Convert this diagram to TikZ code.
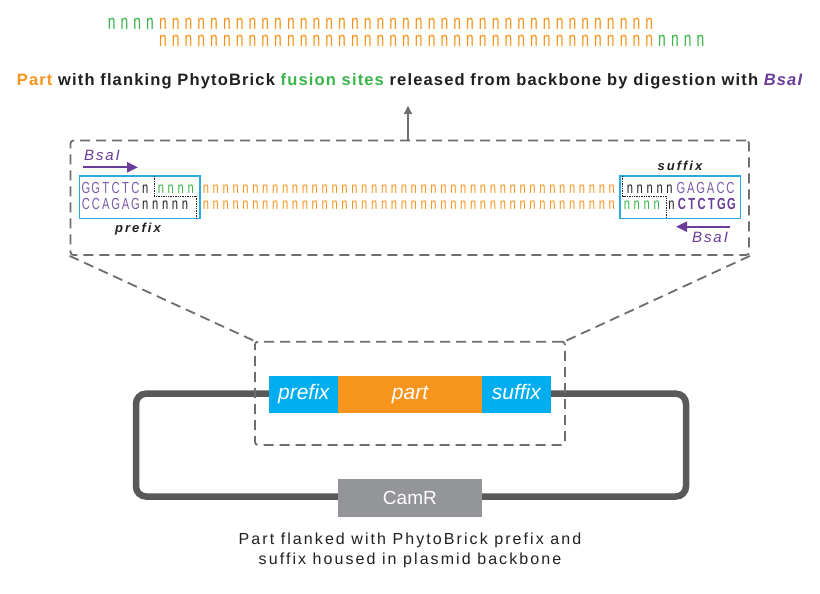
\documentclass[tikz,border=0pt]{standalone}
\usepackage{fontspec}
\setmainfont{Liberation Sans}
\newfontfamily\seqfont[FakeStretch=0.7]{Liberation Sans}
\newfontfamily\topfont[FakeStretch=0.66]{Liberation Sans}
\newfontfamily\headfont[LetterSpace=7]{Liberation Sans}
\newfontfamily\spfont[LetterSpace=13]{Liberation Sans}
\newfontfamily\lblfont[LetterSpace=16]{Liberation Sans}
\usetikzlibrary{arrows.meta}
\definecolor{orng}{HTML}{F7941D}
\definecolor{grn}{HTML}{39B54A}
\definecolor{purp}{HTML}{6A3D9A}
\definecolor{purtxt}{HTML}{7D5BA8}
\definecolor{cyanfill}{HTML}{00AEEF}
\definecolor{cyanline}{HTML}{29ABE2}
\definecolor{dgray}{HTML}{6D6E71}
\definecolor{plas}{HTML}{58595B}
\definecolor{camr}{HTML}{939598}
\definecolor{ink}{HTML}{231F20}
\newlength\seqpitch
\setlength\seqpitch{9.9pt}
\newcommand\repch[3]{\foreach \nidx in {1,...,#1}{\makebox[#2]{#3}}}
\def\spellaux#1{\ifx#1\relax\else\makebox[\seqpitch]{#1}\expandafter\spellaux\fi}
\newcommand\spell[1]{\spellaux#1\relax}
\newcommand\nrow[1]{\repch{#1}{\seqpitch}{n}}
\begin{document}
\begin{tikzpicture}[x=1pt,y=-1pt,
  seqtxt/.style={anchor=base west, inner sep=0pt, outer sep=0pt, font=\seqfont\fontsize{16}{16}\selectfont},
  toptxt/.style={anchor=base west, inner sep=0pt, outer sep=0pt, text height=11pt, text depth=0pt, font=\topfont\fontsize{21}{21}\selectfont},
  dashbox/.style={draw=dgray, dash pattern=on 10pt off 6pt, line width=1.8pt, rounded corners=3pt, inner sep=0pt},
  dashlink/.style={draw=dgray, dash pattern=on 10pt off 6pt, line width=1.8pt},
  seqbox/.style={draw=cyanline, line width=1.3pt, inner sep=0pt},
  cutline/.style={draw=ink, line width=0.9pt, dash pattern=on 1.4pt off 1pt},
  bsa/.style={draw=purp, line width=2.2pt, -{Triangle[length=11pt,width=10pt]}},
  bsatxt/.style={text=purp, inner sep=0pt, font=\spfont\itshape\fontsize{15}{15}\selectfont},
  lbl/.style={text=ink, inner sep=0pt, font=\lblfont\bfseries\itshape\fontsize{13}{13}\selectfont},
  partbox/.style={inner sep=0pt, minimum height=36.7pt, text height=15pt, text depth=4.5pt, text=white, font=\itshape\fontsize{21}{21}\selectfont},
]
\path[use as bounding box, fill=white] (0,0) rectangle (820,594);

% top released fragment
\node (top1) [toptxt] at (105.3,30) {\color{grn}\repch{4}{12.8pt}{n}\color{orng}\repch{39}{12.8pt}{n}};
\node (top2) [toptxt] at (156.5,47) {\color{orng}\repch{39}{12.8pt}{n}\color{grn}\repch{4}{12.8pt}{n}};

% heading
\node (head) [anchor=base, inner sep=0pt, text=ink, font=\headfont\bfseries\fontsize{16.5}{16.5}\selectfont] at (409.5,85)
  {\textcolor{orng}{Part} with flanking PhytoBrick \textcolor{grn}{fusion sites} released from backbone by digestion with \textcolor{purp}{\itshape BsaI}};

% detail box
\node (detail) [dashbox, minimum width=678.5pt, minimum height=114.5pt] at (409.75,197.75) {};
\coordinate (upstart) at (408,140.5);
\coordinate (uptip) at (408,106);
\draw[dgray, line width=1.4pt, -{Triangle[length=8pt,width=8pt]}] (upstart) -- (uptip);

% blue boxes
\node (pfxbox) [seqbox, minimum width=120.7pt, minimum height=42.5pt] at (139.65,197.25) {};
\node (sfxbox) [seqbox, minimum width=120.7pt, minimum height=42.5pt] at (680.35,197.25) {};

% sequence rows
\node (r1a) [seqtxt, text=purtxt] at (81,193) {\spell{GGTCTC}};
\node (r1b) [seqtxt, text=ink] at (140.4,193) {\nrow{1}};
\node (r1c) [seqtxt, text=grn] at (156,193) {\nrow{4}};
\node (r1d) [seqtxt, text=orng] at (201,193) {\nrow{42}};
\node (r1e) [seqtxt, text=ink] at (625,193) {\nrow{5}};
\node (r1f) [seqtxt, text=purtxt] at (676,193) {\spell{GAGACC}};

\node (r2a) [seqtxt, text=purtxt] at (81,209.5) {\spell{CCAGAG}};
\node (r2b) [seqtxt, text=ink] at (140.4,209.5) {\nrow{5}};
\node (r2c) [seqtxt, text=orng] at (201,209.5) {\nrow{42}};
\node (r2d) [seqtxt, text=grn] at (622,209.5) {\nrow{4}};
\node (r2e) [seqtxt, text=ink] at (666.5,209.5) {\nrow{1}};
\node (r2f) [seqtxt, text=purp, font=\seqfont\bfseries\fontsize{16}{16}\selectfont] at (677,209.5) {\spell{CTCTGG}};

% staggered cut lines
\draw[cutline] (154.3,176) -- (154.3,196) -- (196.7,196) -- (196.7,218.5);
\draw[cutline] (622.7,176) -- (622.7,196) -- (666,196) -- (666,218.5);

% labels
\node (pfxlbl) [lbl] at (138,229) {prefix};
\node (sfxlbl) [lbl] at (680,166) {suffix};
\node (bsa1) [bsatxt] at (102,155.5) {BsaI};
\node (bsa2) [bsatxt] at (710,237.5) {BsaI};
\coordinate (a1s) at (83.3,167.3);
\coordinate (a1e) at (138,167.3);
\coordinate (a2s) at (730,226.7);
\coordinate (a2e) at (676,226.7);
\draw[bsa] (a1s) -- (a1e);
\draw[bsa] (a2s) -- (a2e);

% plasmid
\draw[plas, line width=6.5pt, rounded corners=10pt] (136,393.7) rectangle (686,496.5);
\node (pfx) [partbox, fill=cyanfill, minimum width=69pt] at (303.8,394.35) {prefix};
\node (part) [partbox, fill=orng, minimum width=143.4pt] at (410,394.35) {part};
\node (sfx) [partbox, fill=cyanfill, minimum width=69.3pt] at (516.35,394.35) {suffix};
\node (cam) [inner sep=0pt, fill=camr, minimum width=143.9pt, minimum height=38pt, text=white, font=\fontsize{19}{19}\selectfont] at (409.9,498) {CamR};

% zoom box and links
\node (zoombox) [dashbox, minimum width=310pt, minimum height=103.3pt] at (410,393.35) {};
\draw[dashlink] (detail.south west) -- (zoombox.north west);
\draw[dashlink] (detail.south east) -- (zoombox.north east);

% caption
\node (cap) [inner sep=0pt, text=ink, align=center, font=\spfont\fontsize{16}{20}\selectfont] at (410,550)
  {Part flanked with PhytoBrick prefix and\\suffix housed in plasmid backbone};
\end{tikzpicture}
\end{document}
